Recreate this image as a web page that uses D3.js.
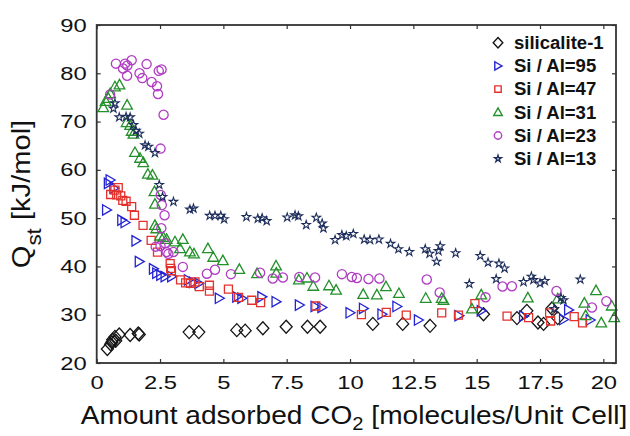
<!DOCTYPE html>
<html>
<head>
<meta charset="utf-8">
<script src="https://cdn.jsdelivr.net/npm/d3@7"></script>
<style>
  html, body { margin: 0; padding: 0; background: #fff; }
  svg { display: block; font-family: "Liberation Sans", Arial, Helvetica, sans-serif; }
</style>
</head>
<body>
<svg id="chart" width="630" height="436"></svg>
<script>
// Isosteric heat of CO2 adsorption vs. loading for silicalite-1 and ZSM-5 of varying Si/Al ratio
const seriesNames = ["silicalite-1", "Si / Al=95", "Si / Al=47", "Si / Al=31", "Si / Al=23", "Si / Al=13"];

const silicaliteX = [0.42, 0.55, 0.60, 0.63, 0.72, 0.75, 0.89, 1.32, 1.64, 1.68, 3.65, 4.03, 5.53, 5.86, 6.56, 7.48, 8.32, 8.82, 10.9, 12.08, 13.16, 15.27, 16.59, 16.98, 17.42, 17.64, 17.97, 18.2];
const silicaliteY = [22.9, 23.9, 24.3, 24.8, 25.4, 24.6, 25.9, 25.8, 26.1, 25.9, 26.4, 26.4, 26.8, 26.7, 27.2, 27.5, 27.5, 27.5, 28.1, 28.1, 27.7, 30.1, 29.3, 30.8, 28.4, 28.1, 31.3, 29.3];

const si95X = [0.39, 0.46, 0.53, 0.68, 0.99, 1.12, 1.55, 1.68, 2.24, 2.37, 2.53, 2.7, 2.96, 3.62, 3.82, 4.03, 4.84, 5.53, 5.73, 6.52, 7.08, 8.0, 8.62, 8.89, 10.0, 10.53, 11.26, 11.85, 12.7, 14.3, 15.18, 16.85, 18.43, 18.63, 19.48];
const si95Y = [51.7, 57.2, 57.9, 56.2, 49.6, 49.1, 45.3, 41.0, 39.5, 38.6, 38.2, 37.9, 37.9, 37.2, 36.7, 36.5, 33.4, 33.7, 33.4, 33.7, 32.7, 32.0, 31.7, 31.5, 30.4, 31.3, 30.1, 31.7, 28.9, 29.8, 30.8, 29.7, 29.0, 31.0, 28.9];

const si47X = [0.55, 0.72, 0.79, 0.85, 0.95, 1.03, 1.16, 1.38, 1.49, 1.83, 2.15, 2.4, 2.9, 2.92, 2.95, 3.31, 3.51, 3.7, 3.88, 4.05, 4.45, 4.45, 5.2, 5.6, 6.12, 6.47, 8.65, 10.45, 11.43, 12.22, 13.62, 14.28, 14.93, 16.2, 17.05, 17.88, 17.92, 18.85, 19.18];
const si47Y = [54.9, 55.8, 54.8, 56.3, 54.6, 53.7, 53.5, 52.4, 50.6, 48.5, 45.4, 42.95, 40.6, 39.6, 39.1, 37.2, 36.6, 36.5, 36.8, 35.8, 36.1, 34.9, 35.3, 33.6, 33.0, 32.5, 31.8, 30.0, 30.5, 29.9, 30.4, 29.9, 32.3, 29.7, 29.4, 30.4, 28.7, 29.6, 28.3];

const si31X = [0.26, 0.35, 0.46, 0.53, 0.72, 0.9, 1.2, 1.18, 1.32, 1.38, 1.45, 1.51, 1.71, 1.84, 2.02, 2.2, 2.28, 2.3, 2.3, 2.35, 2.5, 2.63, 2.76, 3.09, 3.4, 3.29, 3.68, 3.84, 4.39, 4.6, 4.98, 5.63, 6.33, 7.08, 7.09, 7.98, 8.3, 8.55, 9.17, 9.45, 10.52, 11.06, 11.42, 11.93, 12.99, 13.62, 13.69, 14.81, 15.18, 17.02, 18.2, 19.25, 19.71, 19.3, 19.92, 20.33, 20.43];
const si31Y = [72.9, 74.2, 74.8, 75.8, 77.2, 77.6, 73.4, 69.8, 69.2, 68.0, 67.4, 63.6, 62.4, 61.5, 59.1, 58.9, 55.5, 52.9, 48.5, 47.8, 46.3, 46.0, 45.6, 45.1, 45.6, 43.7, 43.0, 42.6, 43.7, 41.9, 41.2, 39.4, 38.5, 40.1, 38.6, 37.2, 37.6, 35.9, 36.0, 35.1, 34.2, 34.1, 35.8, 34.4, 33.4, 33.4, 33.0, 31.2, 34.1, 33.5, 33.3, 32.4, 35.0, 29.8, 28.3, 31.8, 29.4];

const si23X = [0.53, 0.76, 1.04, 1.12, 1.21, 1.38, 1.2, 1.69, 1.8, 1.97, 2.17, 2.38, 2.42, 2.45, 2.56, 2.64, 2.52, 2.53, 2.57, 2.68, 2.55, 2.33, 2.52, 2.7, 2.76, 2.83, 3.03, 3.4, 4.35, 4.67, 5.3, 6.45, 6.95, 7.35, 8.0, 8.62, 9.68, 10.07, 10.27, 10.73, 11.16, 13.03, 13.54, 15.35, 16.02, 16.39, 18.15, 19.55, 20.12];
const si23Y = [75.6, 82.0, 81.0, 82.0, 81.6, 82.7, 79.5, 80.0, 79.0, 81.9, 78.2, 77.3, 75.7, 80.5, 80.8, 71.4, 64.4, 54.8, 52.7, 50.6, 47.9, 44.1, 44.2, 44.8, 43.0, 42.6, 43.0, 39.9, 38.5, 39.3, 38.4, 38.7, 37.5, 37.7, 37.8, 37.7, 38.4, 37.8, 37.6, 37.4, 37.5, 37.3, 34.6, 33.6, 35.85, 35.9, 34.9, 31.5, 32.8];

const si13X = [0.66, 0.72, 0.89, 1.16, 1.32, 1.45, 1.55, 1.68, 1.91, 2.04, 2.3, 2.47, 2.6, 3.03, 3.68, 3.82, 4.46, 4.67, 4.9, 5.03, 5.91, 6.36, 6.53, 6.71, 7.52, 7.83, 7.96, 8.27, 8.67, 8.9, 8.95, 9.41, 9.68, 9.85, 10.13, 10.56, 10.79, 11.14, 11.6, 11.91, 12.34, 12.97, 13.14, 13.42, 13.49, 13.56, 14.17, 14.71, 15.14, 15.45, 15.88, 16.1, 15.77, 16.85, 17.16, 17.24, 17.5, 17.69, 18.33, 18.43, 19.09, 18.06];
const si13Y = [72.7, 73.8, 70.9, 71.0, 70.9, 69.3, 68.1, 67.5, 65.1, 64.8, 63.5, 56.9, 54.4, 53.4, 51.8, 52.0, 50.5, 50.5, 50.5, 49.8, 50.25, 49.9, 50.0, 49.4, 50.15, 50.6, 50.4, 48.6, 50.1, 48.9, 47.9, 45.5, 46.5, 46.3, 46.75, 45.6, 45.5, 45.6, 44.7, 43.6, 43.0, 43.6, 42.65, 41.0, 43.2, 44.2, 42.75, 36.4, 42.2, 40.8, 40.6, 39.6, 37.4, 36.8, 37.9, 37.2, 36.5, 37.0, 33.5, 33.0, 37.3, 31.2];

const xTickValues = [0, 2.5, 5, 7.5, 10, 12.5, 15, 17.5, 20];
const xTickLabels = ["0", "2.5", "5", "7.5", "10", "12.5", "15", "17.5", "20"];
const yTickValues = [20, 30, 40, 50, 60, 70, 80, 90];

// Marker outlines; the symbol size acts as a plain scale factor
const diamondShape = { draw(c, s) { c.moveTo(0, -6.5 * s); c.lineTo(6 * s, 0); c.lineTo(0, 6.5 * s); c.lineTo(-6 * s, 0); c.closePath(); } };
const rightTriShape = { draw(c, s) { c.moveTo(-4 * s, -5.2 * s); c.lineTo(5 * s, 0); c.lineTo(-4 * s, 5.2 * s); c.closePath(); } };
const squareShape = { draw(c, s) { c.rect(-4 * s, -4 * s, 8 * s, 8 * s); } };
const upTriShape = { draw(c, s) { c.moveTo(0, -5.5 * s); c.lineTo(5.3 * s, 4 * s); c.lineTo(-5.3 * s, 4 * s); c.closePath(); } };
const circleShape = { draw(c, s) { const r = 4.6 * s; c.moveTo(r, 0); c.arc(0, 0, r, 0, 2 * Math.PI); } };
const starShape = { draw(c, s) { d3.symbolStar.draw(c, 22 * s * s); } };

const series = [
  { name: seriesNames[0], xs: silicaliteX, ys: silicaliteY, shape: diamondShape, color: "#151515", sw: 1.3 },
  { name: seriesNames[1], xs: si95X, ys: si95Y, shape: rightTriShape, color: "#2323d2", sw: 1.3 },
  { name: seriesNames[2], xs: si47X, ys: si47Y, shape: squareShape, color: "#e3312c", sw: 1.3 },
  { name: seriesNames[3], xs: si31X, ys: si31Y, shape: upTriShape, color: "#23902a", sw: 1.3 },
  { name: seriesNames[4], xs: si23X, ys: si23Y, shape: circleShape, color: "#b03dc3", sw: 1.3 },
  { name: seriesNames[5], xs: si13X, ys: si13Y, shape: starShape, color: "#1d2d5c", sw: 1.1 }
];

const svg = d3.select("#chart");
const plotLeft = 96.7, plotRight = 616, plotTop = 25, plotBottom = 363;

const x = d3.scaleLinear().domain([0, 20.5]).range([plotLeft, plotRight]);
const y = d3.scaleLinear().domain([20, 90]).range([plotBottom, plotTop]);

// Points
series.forEach(s => {
  const sym = d3.symbol().type(s.shape).size(1);
  svg.append("g")
    .selectAll("path")
    .data(s.xs.map((v, i) => [v, s.ys[i]]))
    .join("path")
    .attr("transform", d => `translate(${x(d[0])},${y(d[1])})`)
    .attr("d", sym)
    .attr("fill", "none")
    .attr("stroke", s.color)
    .attr("stroke-width", s.sw);
});

// Axes with inward ticks on all four sides; labels set in a slightly wide face
const labelStretch = 1.25;
const tickStyle = g => {
  g.select(".domain").remove();
  g.selectAll(".tick line").attr("stroke", "#333").attr("stroke-width", 1.2);
  g.selectAll(".tick text").attr("fill", "#111").style("font-size", "19px")
    .attr("transform", `scale(${labelStretch},1)`);
};

svg.append("g").attr("transform", `translate(0,${plotBottom})`)
  .call(d3.axisBottom(x).tickValues(xTickValues).tickFormat((d, i) => xTickLabels[i]).tickSizeInner(-4).tickSizeOuter(0).tickPadding(13))
  .call(tickStyle);
svg.append("g").attr("transform", `translate(0,${plotTop})`)
  .call(d3.axisTop(x).tickValues(xTickValues).tickFormat("").tickSizeInner(-4).tickSizeOuter(0))
  .call(tickStyle);
svg.append("g").attr("transform", `translate(${plotLeft},0)`)
  .call(d3.axisLeft(y).tickValues(yTickValues).tickFormat(d3.format("d")).tickSizeInner(-4).tickSizeOuter(0).tickPadding(10 / labelStretch))
  .call(tickStyle);
svg.append("g").attr("transform", `translate(${plotRight},0)`)
  .call(d3.axisRight(y).tickValues(yTickValues).tickFormat("").tickSizeInner(-4).tickSizeOuter(0))
  .call(tickStyle);

// Frame
svg.append("rect")
  .attr("x", plotLeft).attr("y", plotTop)
  .attr("width", plotRight - plotLeft).attr("height", plotBottom - plotTop)
  .attr("fill", "none").attr("stroke", "#333").attr("stroke-width", 1.8);

// Axis titles
const xTitle = svg.append("text")
  .attr("transform", "translate(354,424) scale(1.06,1)")
  .attr("text-anchor", "middle")
  .style("font-size", "26.5px").attr("fill", "#111");
xTitle.append("tspan").text("Amount adsorbed CO");
xTitle.append("tspan").attr("dy", 6).style("font-size", "19px").text("2");
xTitle.append("tspan").attr("dy", -6).text(" [molecules/Unit Cell]");

const yTitle = svg.append("text")
  .attr("transform", "translate(30,194) rotate(-90) scale(1.12,1)")
  .attr("text-anchor", "middle")
  .style("font-size", "26px").attr("fill", "#111");
yTitle.append("tspan").text("Q");
yTitle.append("tspan").attr("dy", 11).style("font-size", "20px").text("st");
yTitle.append("tspan").attr("dy", -11).text(" [kJ/mol]");

// Legend
const legend = svg.append("g");
series.forEach((s, i) => {
  const cy = 42.7 + i * 23.2;
  legend.append("path")
    .attr("transform", `translate(498,${cy})`)
    .attr("d", d3.symbol().type(s.shape).size(0.8)())
    .attr("fill", "none").attr("stroke", s.color).attr("stroke-width", 1.4);
  legend.append("text")
    .attr("transform", `translate(514,${cy + 6.3}) scale(1.06,1)`)
    .style("font-size", "17.5px").style("font-weight", "bold").attr("fill", "#111")
    .text(s.name);
});
</script>
</body>
</html>
